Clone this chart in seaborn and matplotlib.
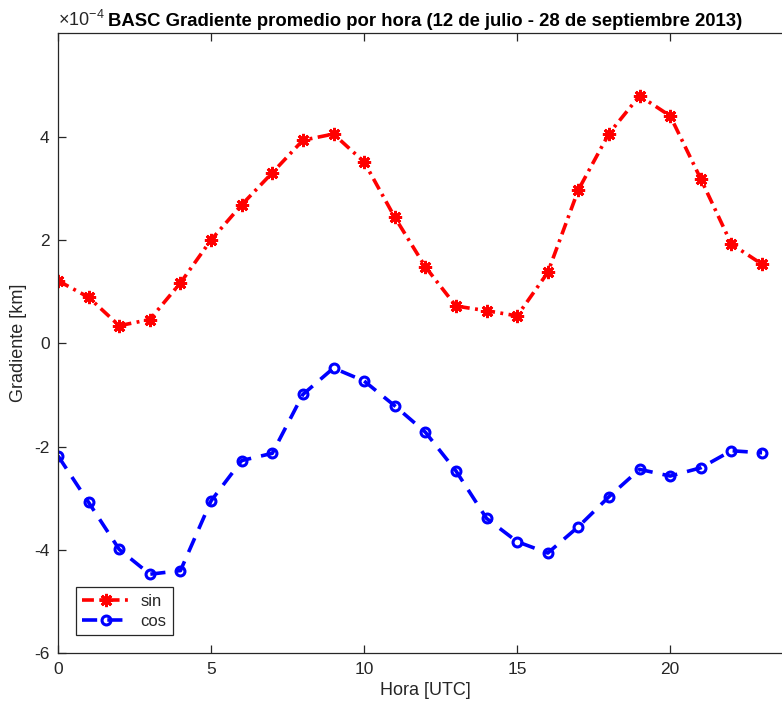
import matplotlib
matplotlib.use("Agg")
import matplotlib.pyplot as plt
import seaborn as sns
import numpy as np
import pandas as pd

# Hourly mean gradient (x 1e-4 km)
hours = list(range(24))
sin_vals = [1.21, 0.89, 0.34, 0.46, 1.17, 2.00, 2.68, 3.30, 3.93, 4.05, 3.51, 2.44,
            1.48, 0.72, 0.63, 0.53, 1.37, 2.97, 4.06, 4.79, 4.40, 3.18, 1.92, 1.53]
cos_vals = [-2.18, -3.08, -3.99, -4.47, -4.40, -3.05, -2.27, -2.13, -0.99, -0.48, -0.73, -1.21,
            -1.72, -2.47, -3.39, -3.84, -4.06, -3.55, -2.97, -2.44, -2.57, -2.41, -2.08, -2.12]
scale = 1e-4

title = "BASC Gradiente promedio por hora (12 de julio - 28 de septiembre 2013)"
xlabel = "Hora [UTC]"
ylabel = "Gradiente [km]"
x_ticks = [0, 5, 10, 15, 20]
y_ticks = [-6, -4, -2, 0, 2, 4]

sns.set_style("white")
plt.rcParams["font.family"] = ["Liberation Sans", "DejaVu Sans"]
plt.rcParams["mathtext.fontset"] = "custom"
plt.rcParams["mathtext.rm"] = "Liberation Sans"

df = pd.DataFrame({"hora": hours,
                   "sin": np.array(sin_vals) * scale,
                   "cos": np.array(cos_vals) * scale})

fig = plt.figure(figsize=(7.82, 7.11), dpi=100)
ax = fig.add_axes([0.0742, 0.0812, 0.9394, 0.872])

axis_gray = "#262626"

sns.lineplot(data=df, x="hora", y="sin", ax=ax, color="red", lw=2.6,
             linestyle=(0, (3.3, 1.5, 0.8, 1.5)), marker=(8, 2, 0), markersize=9.5,
             markeredgewidth=2.0, markeredgecolor="red", label="sin")
sns.lineplot(data=df, x="hora", y="cos", ax=ax, color="blue", lw=2.6,
             linestyle=(0, (4.2, 2.8)), marker="o", markersize=6.4,
             markerfacecolor="none", markeredgewidth=2.2, markeredgecolor="blue", label="cos")

ax.set_xlim(0, 24)
ax.set_ylim(-6 * scale, 6 * scale)
ax.set_xticks(x_ticks)
ax.set_yticks([v * scale for v in y_ticks])
ax.set_xticklabels([str(v) for v in x_ticks])
ax.set_yticklabels([str(v) for v in y_ticks])

ax.tick_params(direction="in", length=6, width=0.9, colors=axis_gray, labelsize=12.5,
               top=True, bottom=True, left=True, right=False, pad=6)
for side in ["left", "bottom", "top"]:
    ax.spines[side].set_color(axis_gray)
    ax.spines[side].set_linewidth(0.9)
ax.spines["right"].set_visible(False)

ax.set_xlabel(xlabel, fontsize=13, color=axis_gray, labelpad=4)
ax.set_ylabel(ylabel, fontsize=13, color=axis_gray, labelpad=5)
ax.set_title(title, fontsize=13.3, fontweight="bold", color="black", pad=5)

ax.text(0.0, 1.006, r"$\times10^{-4}$", transform=ax.transAxes, fontsize=13,
        color=axis_gray, ha="left", va="bottom")

leg = ax.legend(loc="lower left", bbox_to_anchor=(0.024, 0.029), borderaxespad=0,
                fontsize=12, frameon=True, fancybox=False, handlelength=2.9,
                handletextpad=0.6, edgecolor=axis_gray, framealpha=1,
                borderpad=0.4, labelspacing=0.3)
leg.get_frame().set_linewidth(0.9)

fig.savefig("out.png", dpi=100)
